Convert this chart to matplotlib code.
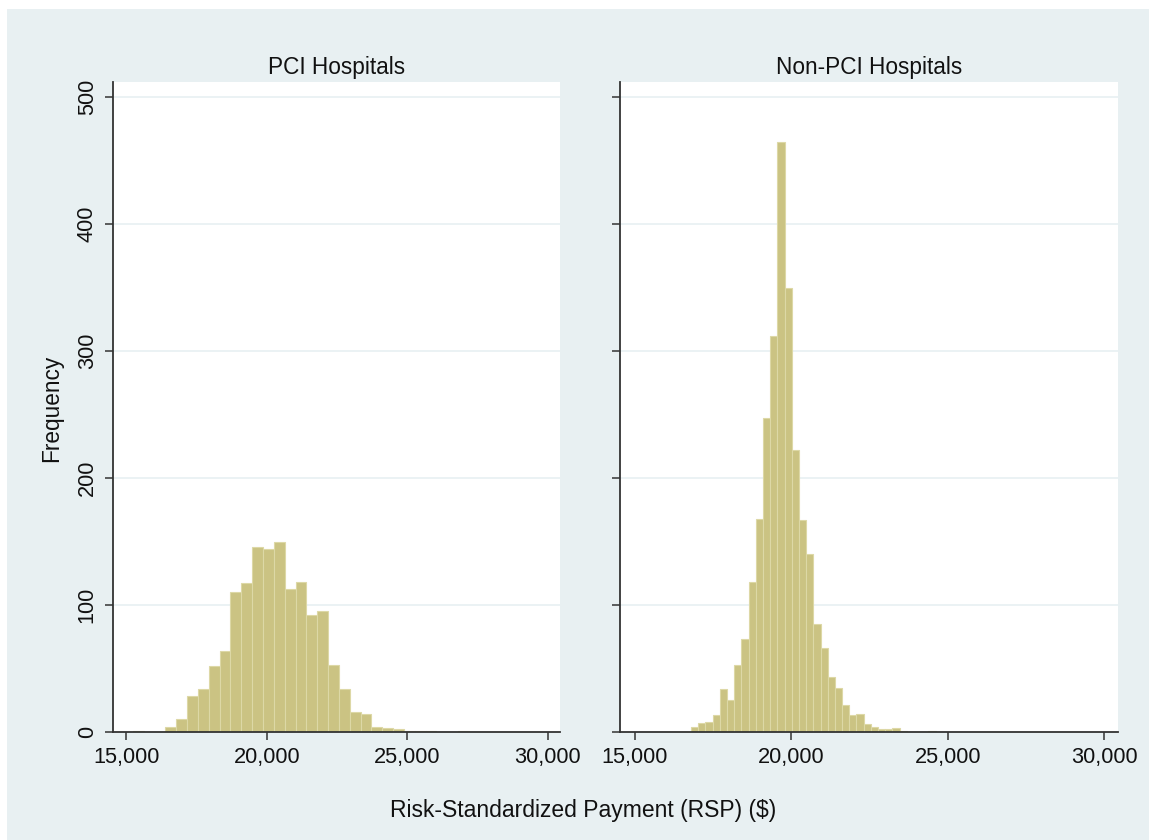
import numpy as np
import matplotlib.pyplot as plt
from matplotlib.patches import Rectangle

# bin counts
pci_start = 15230
pci_width = 386
pci_counts = [1, 0, 0, 4, 10, 28, 34, 52, 64, 110, 117, 146, 144, 150, 113, 118,
              92, 95, 53, 34, 16, 14, 4, 3, 2, 1, 1, 1, 0, 0, 1]

non_start = 16790
non_width = 230
non_counts = [4, 7, 8, 13, 34, 25, 53, 73, 118, 168, 247, 312, 465, 350, 222, 167,
              140, 85, 66, 43, 35, 21, 13, 14, 6, 4, 2, 2, 3, 1, 0, 0, 0, 1]

titles = ["PCI Hospitals", "Non-PCI Hospitals"]
xticks = [15000, 20000, 25000, 30000]
yticks = [0, 100, 200, 300, 400, 500]

plt.rcParams['font.family'] = ['Liberation Sans', 'DejaVu Sans']

W, H = 1149, 840
fig = plt.figure(figsize=(W / 100, H / 100), dpi=100)
fig.patch.set_facecolor('white')
fig.patches.append(Rectangle((7 / W, 0), 1, 1 - 9 / H, transform=fig.transFigure,
                             facecolor='#E8F0F2', edgecolor='none', zorder=-10))

ax1 = fig.add_axes([113 / W, (H - 732) / H, (560 - 113) / W, (732 - 82) / H])
ax2 = fig.add_axes([620 / W, (H - 732) / H, (1118 - 620) / W, (732 - 82) / H])

panels = [(ax1, pci_start, pci_width, pci_counts),
          (ax2, non_start, non_width, non_counts)]

for i, (ax, start, width, counts) in enumerate(panels):
    edges = start + width * np.arange(len(counts))
    ax.bar(edges, counts, width=width, align='edge', color='#CBC383',
           edgecolor='#DDD8A6', linewidth=0.8, zorder=2)
    ax.set_xlim(14520, 30440)
    ax.set_ylim(0, 512)
    ax.set_facecolor('white')
    for y in yticks[1:]:
        ax.axhline(y, color='#E6EFF1', linewidth=1.1, zorder=1)
    for s in ['top', 'right']:
        ax.spines[s].set_visible(False)
    for s in ['left', 'bottom']:
        ax.spines[s].set_color('#333333')
        ax.spines[s].set_linewidth(1.3)
    ax.set_xticks(xticks)
    ax.set_xticklabels([f"{v:,}" for v in xticks])
    ax.set_yticks(yticks)
    ax.set_yticklabels([str(v) for v in yticks], rotation=90, va='center')
    ax.tick_params(direction='out', length=6, width=1.1, color='#333333',
                   labelsize=15.7, pad=5, labelcolor='#111111')
    ax.set_title(titles[i], fontsize=16.3, pad=6, color='#111111')

ax2.tick_params(labelleft=False)

fig.text(52 / W, 1 - 408 / H, "Frequency", rotation=90, va='center', ha='center',
         fontsize=16.3, color='#111111')
fig.text(583 / W, 1 - 810 / H, "Risk-Standardized Payment (RSP) ($)", va='center',
         ha='center', fontsize=16.5, color='#111111')

fig.savefig("out.png", dpi=100)
